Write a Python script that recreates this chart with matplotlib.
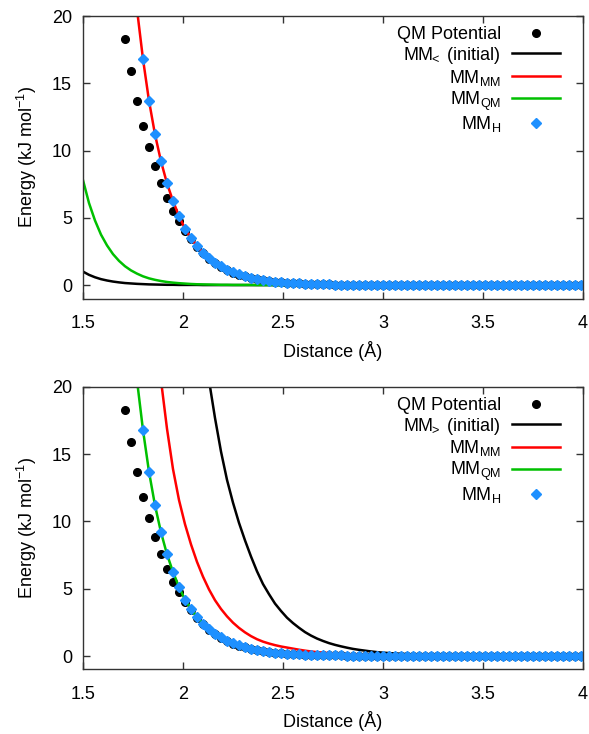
import numpy as np
import matplotlib
matplotlib.use("agg")
import matplotlib.pyplot as plt

nan = np.nan

# sampling grid of the scan, 1.50 .. 3.99 A
distance = np.round(np.arange(1.50, 4.00, 0.03), 2)

x_ticks = [1.5, 2.0, 2.5, 3.0, 3.5, 4.0]
x_tick_labels = ['1.5', '2', '2.5', '3', '3.5', '4']
y_ticks = [0, 5, 10, 15, 20]
y_tick_labels = ['0', '5', '10', '15', '20']

# QM reference energies (kJ/mol), nan = off scale
qm_potential = [nan, nan, nan, nan, nan, nan, nan,
                18.3, 15.9, 13.7, 11.85, 10.25, 8.82, 7.58, 6.49, 5.53, 4.73, 4.04,
                3.42, 2.85, 2.37, 1.97, 1.63, 1.35, 1.12, 0.93, 0.77, 0.64, 0.53, 0.44, 0.37,
                0.31, 0.26, 0.21, 0.18, 0.15, 0.12, 0.10, 0.09, 0.07, 0.06, 0.05, 0.04,
                0.04, 0.03, 0.03, 0.02, 0.02, 0.02,
                0.01, 0.01, 0.01, 0.01, 0.01, 0.01, 0.01, 0.01, 0.01, 0.01,
                0.0, 0.0, 0.0, 0.0, 0.0, 0.0, 0.0, 0.0, 0.0, 0.0, 0.0, 0.0, 0.0,
                0.0, 0.0, 0.0, 0.0, 0.0, 0.0, 0.0, 0.0, 0.0, 0.0, 0.0, 0.0]

# hybrid MM fit, same in both panels
mm_h = [nan, nan, nan, nan, nan, nan, nan,
        30.5, 25.0, 20.5, 16.8, 13.7, 11.2, 9.2, 7.56, 6.25, 5.13, 4.19,
        3.49, 2.90, 2.41, 2.00, 1.66, 1.38, 1.14, 0.95, 0.79, 0.65, 0.54, 0.45, 0.38,
        0.31, 0.26, 0.22, 0.18, 0.15, 0.13, 0.11, 0.09, 0.07, 0.06, 0.05, 0.04,
        0.04, 0.03, 0.03, 0.02, 0.02, 0.02,
        0.01, 0.01, 0.01, 0.01, 0.01, 0.01, 0.01, 0.01, 0.01, 0.01,
        0.0, 0.0, 0.0, 0.0, 0.0, 0.0, 0.0, 0.0, 0.0, 0.0, 0.0, 0.0, 0.0,
        0.0, 0.0, 0.0, 0.0, 0.0, 0.0, 0.0, 0.0, 0.0, 0.0, 0.0, 0.0]

# top panel
mm_lt_initial = [1.00, 0.76, 0.58, 0.44, 0.34, 0.26, 0.20, 0.15, 0.12, 0.09,
                 0.07, 0.05, 0.04, 0.03, 0.02, 0.02, 0.01, 0.01, 0.01, 0.01,
                 0.0, 0.0, 0.0, 0.0, 0.0, 0.0, 0.0, 0.0, 0.0, 0.0, 0.0, 0.0,
                 0.0, 0.0, 0.0, 0.0, 0.0, 0.0, 0.0, 0.0, 0.0, 0.0, 0.0, 0.0,
                 0.0, 0.0, 0.0, 0.0, 0.0, 0.0, 0.0, 0.0, 0.0, 0.0, 0.0, 0.0,
                 0.0, 0.0, 0.0, 0.0, 0.0, 0.0, 0.0, 0.0, 0.0, 0.0, 0.0, 0.0,
                 0.0, 0.0, 0.0, 0.0, 0.0, 0.0, 0.0, 0.0, 0.0, 0.0, 0.0, 0.0,
                 0.0, 0.0, 0.0, 0.0]
mm_qm_top = [7.80, 6.10, 4.80, 3.75, 2.95, 2.30, 1.80, 1.40, 1.09, 0.85,
             0.65, 0.50, 0.39, 0.30, 0.23, 0.18, 0.14, 0.11, 0.08, 0.06,
             0.05, 0.04, 0.03, 0.02, 0.02, 0.01, 0.01, 0.01, 0.01,
             0.0, 0.0, 0.0, 0.0, 0.0, 0.0, 0.0, 0.0, 0.0, 0.0, 0.0,
             0.0, 0.0, 0.0, 0.0, 0.0, 0.0, 0.0, 0.0, 0.0, 0.0, 0.0,
             0.0, 0.0, 0.0, 0.0, 0.0, 0.0, 0.0, 0.0, 0.0, 0.0, 0.0,
             0.0, 0.0, 0.0, 0.0, 0.0, 0.0, 0.0, 0.0, 0.0, 0.0, 0.0,
             0.0, 0.0, 0.0, 0.0, 0.0, 0.0, 0.0, 0.0, 0.0, 0.0, 0.0]
mm_mm_top = mm_h

# bottom panel
mm_gt_initial = [nan, nan, nan, nan, nan, nan, nan, nan, nan, nan,
                 nan, nan, nan, nan, nan, nan, nan, nan, nan, nan,
                 24.0, 20.5, 17.7, 15.2, 13.1, 11.4, 9.9, 8.6, 7.4, 6.3, 5.35,
                 4.6, 3.9, 3.35, 2.85, 2.45, 2.1, 1.78, 1.52, 1.3, 1.12,
                 0.96, 0.83, 0.72, 0.62, 0.53, 0.46, 0.40, 0.34, 0.29, 0.25,
                 0.22, 0.19, 0.16, 0.14, 0.12, 0.10, 0.09, 0.08, 0.07, 0.06,
                 0.05, 0.04, 0.04, 0.03, 0.03, 0.02, 0.02, 0.02, 0.01, 0.01,
                 0.01, 0.01, 0.01, 0.0, 0.0, 0.0, 0.0, 0.0, 0.0, 0.0, 0.0, 0.0, 0.0]
mm_mm_bottom = [nan, nan, nan, nan, nan, nan, nan, nan, nan, nan, nan, nan,
                24.5, 20.5, 16.9, 13.9, 11.6, 9.8, 8.3, 7.0, 5.9, 4.95,
                4.15, 3.5, 2.95, 2.48, 2.09, 1.76, 1.48, 1.25, 1.07,
                0.93, 0.81, 0.71, 0.63, 0.55, 0.47, 0.40, 0.34, 0.29, 0.25,
                0.21, 0.18, 0.15, 0.13, 0.11, 0.09, 0.08, 0.07, 0.06, 0.05,
                0.04, 0.04, 0.03, 0.03, 0.02, 0.02, 0.02, 0.01,
                0.01, 0.01, 0.01, 0.01, 0.01,
                0.0, 0.0, 0.0, 0.0, 0.0, 0.0, 0.0, 0.0, 0.0, 0.0,
                0.0, 0.0, 0.0, 0.0, 0.0, 0.0, 0.0, 0.0, 0.0, 0.0]
mm_qm_bottom = mm_h

GREEN = '#00C000'
BLUE = '#1E90FF'
FRAME = '#333333'


def set_rcs():
    plt.rcParams['font.family'] = ['Liberation Sans', 'DejaVu Sans']
    plt.rcParams['font.size'] = 13
    plt.rcParams['mathtext.fontset'] = 'custom'
    plt.rcParams['mathtext.rm'] = 'Liberation Sans'
    plt.rcParams['mathtext.it'] = 'Liberation Sans:italic'
    plt.rcParams['mathtext.default'] = 'regular'


def plot_panel(ax, init_label, init_vals, mm_vals, qm_vals):
    ax.plot(distance, qm_potential, 'o', color='black', markersize=5.5,
            label='QM Potential')
    ax.plot(distance, init_vals, '-', color='black', lw=1.8, label=init_label)
    ax.plot(distance, mm_vals, '-', color='red', lw=1.8, label='MM$_{MM}$')
    ax.plot(distance, qm_vals, '-', color=GREEN, lw=1.8, label='MM$_{QM}$')
    ax.plot(distance, mm_h, 'D', color=BLUE, markersize=4.7, label='MM$_H$')

    ax.set_xlim(1.5, 4.0)
    ax.set_ylim(-1, 20)
    ax.set_xticks(x_ticks)
    ax.set_xticklabels(x_tick_labels)
    ax.set_yticks(y_ticks)
    ax.set_yticklabels(y_tick_labels)
    ax.tick_params(direction='in', top=True, right=True, length=5,
                   width=1, color=FRAME)
    ax.tick_params(axis='x', pad=12)
    ax.tick_params(axis='y', pad=8)
    for s in ax.spines.values():
        s.set_color(FRAME)
        s.set_linewidth(1)

    ax.set_xlabel('Distance (\u00c5)', labelpad=6)
    ax.set_ylabel('Energy (kJ mol$^{-1}$)', labelpad=9)
    ax.legend(loc='upper right', bbox_to_anchor=(0.955, 0.965),
              frameon=False, markerfirst=False, numpoints=1,
              handlelength=2.7, handletextpad=0.6, labelspacing=0.1,
              borderpad=0, borderaxespad=0)


def main():
    set_rcs()
    fig = plt.figure(figsize=(5.89, 7.34), dpi=100)
    ax_top = fig.add_axes([0.1409, 0.5933, 0.8489, 0.3849])
    ax_bot = fig.add_axes([0.1409, 0.0879, 0.8489, 0.3849])

    plot_panel(ax_top, 'MM$_{\\!\\!<}$ (initial)', mm_lt_initial,
               mm_mm_top, mm_qm_top)
    plot_panel(ax_bot, 'MM$_{\\!\\!>}$ (initial)', mm_gt_initial,
               mm_mm_bottom, mm_qm_bottom)

    fig.savefig('out.png', dpi=100)


if __name__ == '__main__':
    main()
